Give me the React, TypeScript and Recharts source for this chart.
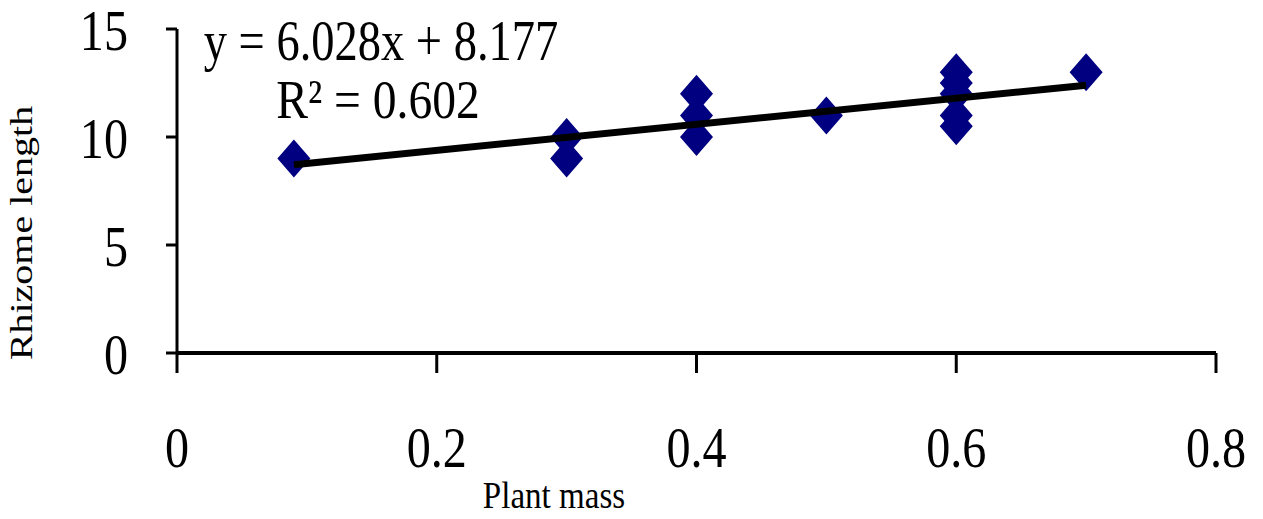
import React from "react";
import { ScatterChart, Scatter, XAxis, YAxis } from "recharts";

// plant mass vs rhizome length
const plantMass = [0.09, 0.3, 0.3, 0.4, 0.4, 0.4, 0.5, 0.6, 0.6, 0.6, 0.6, 0.6, 0.7];
const rhizomeLength = [9, 10, 9, 12, 11, 10, 11, 13, 12.5, 12, 11, 10.5, 13];

// linear trend line ends (y = 6.028x + 8.177)
const trendX = [0.09, 0.7];
const trendY = [8.72, 12.4];

const xTicks = [0, 0.2, 0.4, 0.6, 0.8];
const yTicks = [0, 5, 10, 15];

const equationText = "y = 6.028x + 8.177";
const r2Text = "R\u00b2 = 0.602";

const points = plantMass.map((x, i) => ({ x, y: rhizomeLength[i] }));
const trend = trendX.map((x, i) => ({ x, y: trendY[i] }));

const FONT = '"Liberation Serif", "Times New Roman", serif';
const SQUISH = 0.86;

const Diamond = (props: any) => {
  const { cx, cy } = props;
  if (cx == null || cy == null) return <g />;
  const w = 16.5;
  const h = 19;
  return (
    <polygon
      points={`${cx},${cy - h} ${cx + w},${cy} ${cx},${cy + h} ${cx - w},${cy}`}
      fill="#000080"
    />
  );
};

const XTick = (props: any) => {
  const { x, y, payload } = props;
  return (
    <text
      transform={`translate(${x},${y}) scale(${SQUISH},1)`}
      textAnchor="middle"
      dy={94}
      fontSize={56}
      fontFamily={FONT}
      fill="#000"
    >
      {payload.value}
    </text>
  );
};

const YTick = (props: any) => {
  const { x, y, payload } = props;
  return (
    <text
      transform={`translate(${x},${y}) scale(${SQUISH},1)`}
      textAnchor="end"
      dy={21}
      fontSize={56}
      fontFamily={FONT}
      fill="#000"
    >
      {payload.value}
    </text>
  );
};

export default function App() {
  return (
    <div style={{ position: "absolute", left: 0, top: 0, width: 1263, height: 519, background: "#fff" }}>
      <ScatterChart
        width={1263}
        height={519}
        margin={{ top: 29, right: 47, bottom: 0, left: 0 }}
      >
        <XAxis
          type="number"
          dataKey="x"
          domain={[0, 0.8]}
          ticks={xTicks}
          height={166}
          tickSize={20}
          tickMargin={0}
          axisLine={{ stroke: "#000", strokeWidth: 4 }}
          tickLine={{ stroke: "#000", strokeWidth: 3 }}
          tick={<XTick />}
          interval={0}
        />
        <YAxis
          type="number"
          dataKey="y"
          domain={[0, 15]}
          ticks={yTicks}
          width={177}
          tickSize={11}
          tickMargin={38}
          axisLine={{ stroke: "#000", strokeWidth: 3 }}
          tickLine={{ stroke: "#000", strokeWidth: 3 }}
          tick={<YTick />}
          interval={0}
        />
        <Scatter data={points} shape={<Diamond />} isAnimationActive={false} />
        <Scatter
          data={trend}
          line={{ stroke: "#000", strokeWidth: 7 }}
          shape={() => <g />}
          isAnimationActive={false}
        />
      </ScatterChart>
      <svg
        width={1263}
        height={519}
        style={{ position: "absolute", left: 0, top: 0, pointerEvents: "none" }}
      >
        <g fontFamily={FONT} fill="#000">
          <text transform="translate(381,60) scale(0.83,1)" textAnchor="middle" fontSize={56}>
            {equationText}
          </text>
          <text transform="translate(378,118) scale(0.85,1)" textAnchor="middle" fontSize={56}>
            {r2Text}
          </text>
          <text transform="translate(554,508) scale(0.87,1)" textAnchor="middle" fontSize={38}>
            Plant mass
          </text>
          <text
            transform="translate(32,233) rotate(-90) scale(1,0.78)"
            textAnchor="middle"
            fontSize={40}
          >
            Rhizome length
          </text>
        </g>
      </svg>
    </div>
  );
}
